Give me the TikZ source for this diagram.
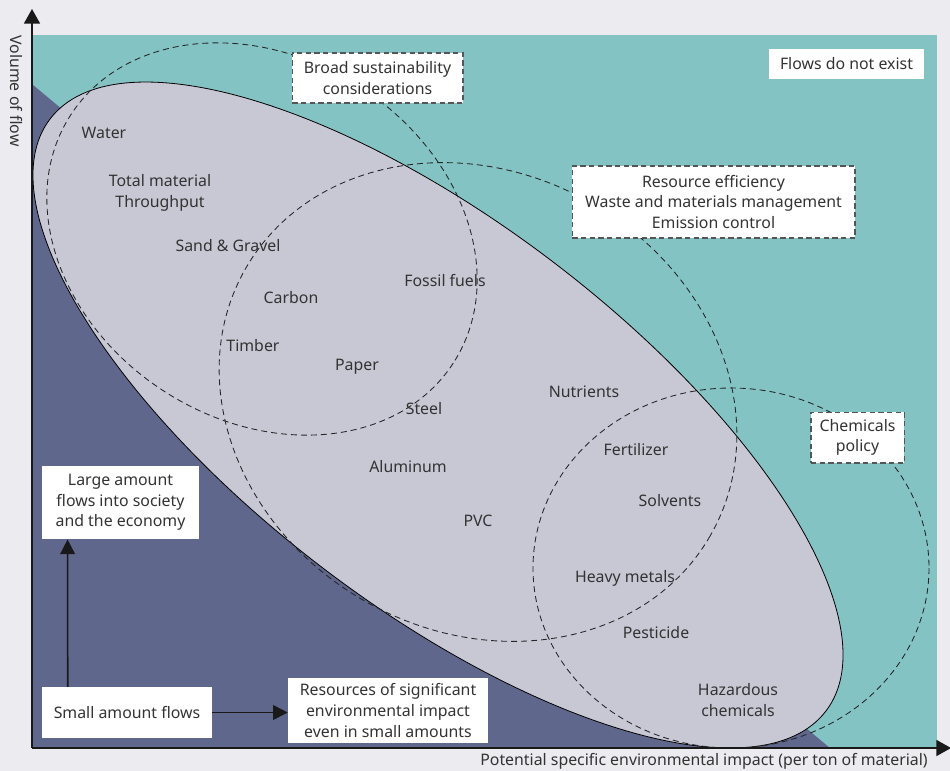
\documentclass[tikz,border=0pt]{standalone}
\usepackage{fontspec}
\setmainfont{Noto Sans}
\usetikzlibrary{calc, positioning, arrows.meta}

\definecolor{bgcol}{HTML}{EBEBF0}
\definecolor{flowteal}{HTML}{84C3C3}
\definecolor{flowdark}{HTML}{5F678C}
\definecolor{flowgray}{HTML}{C8C8D5}
\definecolor{inkgray}{HTML}{333333}
\definecolor{boxgray}{HTML}{555555}

\begin{document}
\begin{tikzpicture}[x=0.75pt, y=-0.75pt,
    lbl/.style={text=inkgray, align=center, font=\fontsize{11.9}{15.4}\selectfont},
    tagbox/.style={lbl, fill=white, inner sep=0pt},
    policybox/.style={tagbox, draw=boxgray, line width=1pt, dash pattern=on 4pt off 2.5pt},
    zone/.style={draw=black!85, line width=0.65pt, dash pattern=on 4.5pt off 3pt},
    axis/.style={line width=1.3pt, draw=black!90, -{Triangle[length=11pt,width=12pt]}},
    flowarrow/.style={line width=1.2pt, draw=black!90, -{Triangle[length=11pt,width=11pt]}}]

  \useasboundingbox (0,0) rectangle (950,771);
  \fill[bgcol] (0,0) rectangle (950,771);
  \fill[flowteal] (33,35) rectangle (937,748);
  \fill[flowdark] (33,85) -- (33,748) -- (830,748) -- cycle;
  \filldraw[fill=flowgray, draw=black, line width=0.6pt, rotate around={-37.35:(438,415)}] (438,415) ellipse [x radius=488, y radius=191.5];

  \draw[zone, rotate around={-33:(262,239)}] (262,239) ellipse [x radius=228, y radius=181];
  \draw[zone, rotate around={-30:(478,402)}] (478,402) ellipse [x radius=268, y radius=229];
  \draw[zone] (731,568) ellipse [x radius=198, y radius=180];

  \coordinate (origin) at (32,748);
  \coordinate (ytip) at (32,9);
  \coordinate (xtip) at (951,748);
  \draw[axis] (origin) -- (ytip);
  \draw[axis] (origin) -- (xtip);
  \node[lbl, rotate=-90] (ylab) at (16,91) {Volume of flow};
  \node[lbl] (xlab) at (704,761) {Potential specific environmental impact (per ton of material)};

  \foreach \txt/\x/\y [count=\i] in {Water/104/133, {Total material\\Throughput}/160/193,
      Sand \& Gravel/228/246, Carbon/291/298, Fossil fuels/445/281, Timber/253/346,
      Paper/357/367, Steel/424/409, Nutrients/584/392, Aluminum/408/467,
      Fertilizer/636/450, Solvents/670/501, PVC/478/521, Heavy metals/625/578,
      Pesticide/656/633, {Hazardous\\chemicals}/738/700}
    \node[lbl] (mat\i) at (\x,\y) {\txt};

  \node[policybox, minimum width=128pt, minimum height=37.5pt] (broad) at (377.5,78) {Broad sustainability\\considerations};
  \node[policybox, minimum width=212pt, minimum height=54pt] (resource) at (713.5,202) {Resource efficiency\\Waste and materials management\\Emission control};
  \node[policybox, minimum width=70pt, minimum height=38pt] (chem) at (857.5,437.5) {Chemicals\\policy};
  \node[tagbox, minimum width=116pt, minimum height=22.5pt] (noflow) at (846.5,64) {Flows do not exist};
  \node[tagbox, minimum width=118pt, minimum height=55pt] (large) at (120.5,502.5) {Large amount\\flows into society\\and the economy};
  \node[tagbox, minimum width=127.5pt, minimum height=38pt] (small) at (127,712.5) {Small amount flows};
  \node[tagbox, minimum width=150pt, minimum height=49pt] (signif) at (388,710.5) {Resources of significant\\environmental impact\\even in small amounts};

  \draw[flowarrow] ($(small.north west)+(26,0)$) -- ($(large.south west)+(26,0)$);
  \draw[flowarrow] (small.east) -- (small.east -| signif.west);
\end{tikzpicture}
\end{document}
